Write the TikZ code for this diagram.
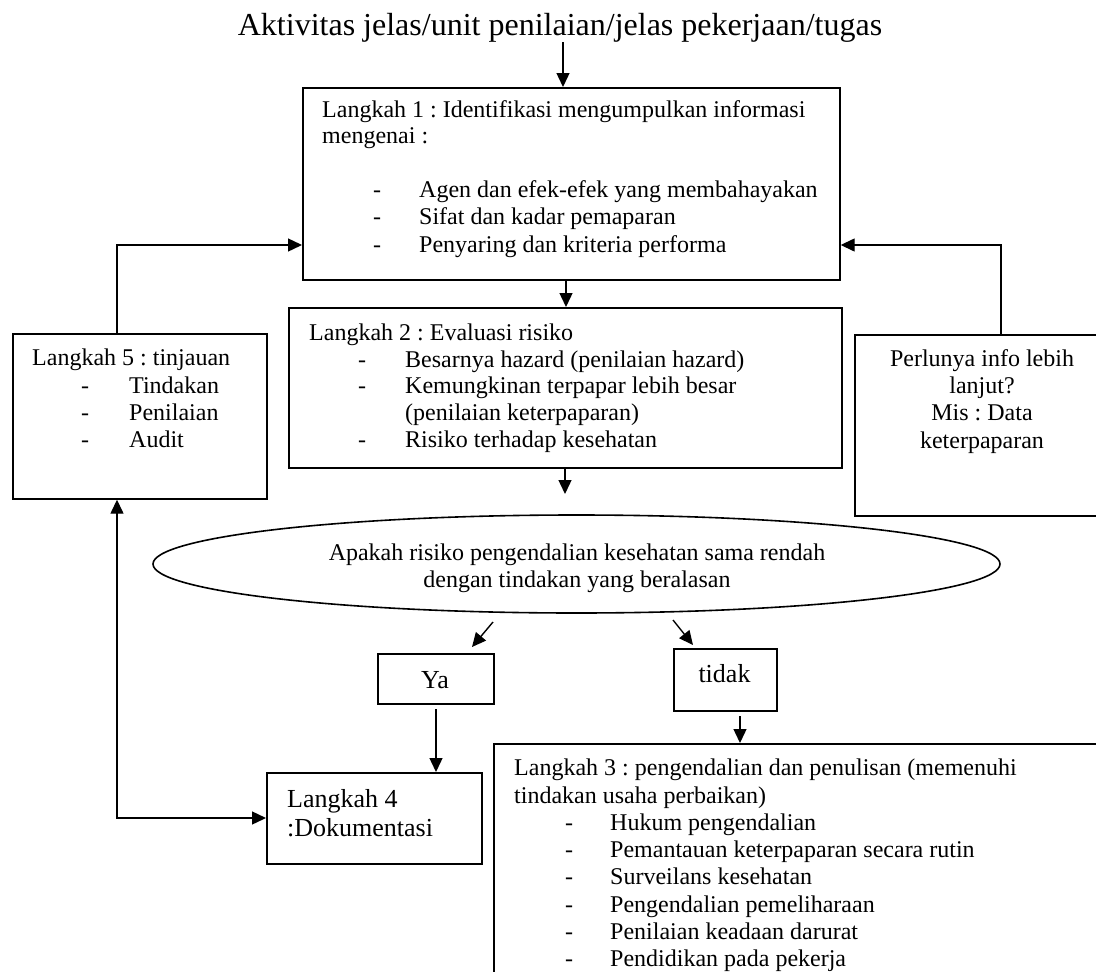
\documentclass[tikz,border=0pt]{standalone}
\usepackage{fontspec}
\setmainfont{Liberation Serif}
\usetikzlibrary{arrows.meta,shapes.geometric}
\frenchspacing
\begin{document}
\begin{tikzpicture}[x=1pt,y=-1pt,
  box/.style={draw, line width=1.7pt, rectangle, inner sep=0pt, anchor=north west},
  txt/.style={inner sep=0pt, anchor=base west, font=\fontsize{24}{27.5}\selectfont},
  ctxt/.style={txt, anchor=base},
  bigtxt/.style={txt, font=\fontsize{26}{30}\selectfont},
  arr/.style={line width=1.4pt, -{Triangle[length=14pt,width=13pt]}},
  darr/.style={line width=1.4pt, {Triangle[length=14pt,width=13pt]}-{Triangle[length=14pt,width=13pt]}},
]
\useasboundingbox (0,0) rectangle (1096,972);
\clip (0,0) rectangle (1096,972);

% ---- boxes ----
\node[box, minimum width=537pt, minimum height=192pt] (b1) at (302,87) {};
\node[box, minimum width=553pt, minimum height=160pt] (b2) at (288,307) {};
\node[box, minimum width=254pt, minimum height=165pt] (b5) at (12,333) {};
\node[box, minimum width=256pt, minimum height=181pt] (rb) at (854,334) {};
\node[box, minimum width=116pt, minimum height=50pt] (yb) at (377,653) {};
\node[box, minimum width=103pt, minimum height=62pt] (tb) at (673,648) {};
\node[box, minimum width=215pt, minimum height=91pt] (b4) at (266,772) {};
\node[box, minimum width=640pt, minimum height=300pt] (b3) at (493,743) {};
\node[draw, ellipse, line width=1.6pt, minimum width=847pt, minimum height=98pt, inner sep=0pt] (q) at (576.5,564) {};

% ---- title ----
\node[inner sep=0pt, anchor=base, font=\fontsize{32}{36}\selectfont] (title) at (560,35)
  {Aktivitas jelas/unit penilaian/jelas pekerjaan/tugas};

% ---- step 1 ----
\node[txt] (s1a) at (322,117) {Langkah 1 : Identifikasi mengumpulkan informasi};
\node[txt] (s1b) at (322,143) {mengenai :};
\node[txt] (s1d1) at (373,197) {-};
\node[txt] (s1i1) at (419,197) {Agen dan efek-efek yang membahayakan};
\node[txt] (s1d2) at (373,224) {-};
\node[txt] (s1i2) at (419,224) {Sifat dan kadar pemaparan};
\node[txt] (s1d3) at (373,252) {-};
\node[txt] (s1i3) at (419,252) {Penyaring dan kriteria performa};

% ---- step 2 ----
\node[txt] (s2a) at (309,340) {Langkah 2 : Evaluasi risiko};
\node[txt] (s2d1) at (358,367) {-};
\node[txt] (s2i1) at (405,367) {Besarnya hazard (penilaian hazard)};
\node[txt] (s2d2) at (358,393) {-};
\node[txt] (s2i2) at (405,393) {Kemungkinan terpapar lebih besar};
\node[txt] (s2i2b) at (405,420) {(penilaian keterpaparan)};
\node[txt] (s2d3) at (358,447) {-};
\node[txt] (s2i3) at (405,447) {Risiko terhadap kesehatan};

% ---- step 5 ----
\node[txt] (s5a) at (32,365) {Langkah 5 : tinjauan};
\node[txt] (s5d1) at (81,393) {-};
\node[txt] (s5i1) at (129,393) {Tindakan};
\node[txt] (s5d2) at (81,420) {-};
\node[txt] (s5i2) at (129,420) {Penilaian};
\node[txt] (s5d3) at (81,447) {-};
\node[txt] (s5i3) at (129,447) {Audit};

% ---- more information ----
\node[ctxt] (r1) at (982,366) {Perlunya info lebih};
\node[ctxt] (r2) at (982,393) {lanjut?};
\node[ctxt] (r3) at (982,420) {Mis : Data};
\node[ctxt] (r4) at (982,448) {keterpaparan};

% ---- decision ----
\node[ctxt] (q1) at (577,560) {Apakah risiko pengendalian kesehatan sama rendah};
\node[ctxt] (q2) at (577,587) {dengan tindakan yang beralasan};
\node[bigtxt, anchor=base] (ya) at (435,688) {Ya};
\node[bigtxt, anchor=base] (tidak) at (724.5,682) {tidak};

% ---- step 4 ----
\node[bigtxt] (s4a) at (287,807) {Langkah 4};
\node[bigtxt] (s4b) at (287,836) {:Dokumentasi};

% ---- step 3 ----
\node[txt] (s3a) at (514,775) {Langkah 3 : pengendalian dan penulisan (memenuhi};
\node[txt] (s3b) at (514,803) {tindakan usaha perbaikan)};
\node[txt] (s3d1) at (565,830) {-};
\node[txt] (s3i1) at (610,830) {Hukum pengendalian};
\node[txt] (s3d2) at (565,857) {-};
\node[txt] (s3i2) at (610,857) {Pemantauan keterpaparan secara rutin};
\node[txt] (s3d3) at (565,884) {-};
\node[txt] (s3i3) at (610,884) {Surveilans kesehatan};
\node[txt] (s3d4) at (565,912) {-};
\node[txt] (s3i4) at (610,912) {Pengendalian pemeliharaan};
\node[txt] (s3d5) at (565,939) {-};
\node[txt] (s3i5) at (610,939) {Penilaian keadaan darurat};
\node[txt] (s3d6) at (565,966) {-};
\node[txt] (s3i6) at (610,966) {Pendidikan pada pekerja};

% ---- guide coordinates ----
\coordinate (xA) at (563,0);
\coordinate (xB) at (566,0);
\coordinate (xL) at (117,0);
\coordinate (xR) at (1001,0);
\coordinate (yF) at (0,245);
\coordinate (yG) at (0,818);
\coordinate (qin) at (565,494);
\coordinate (ya0) at (493,622);
\coordinate (ya1) at (472,647);
\coordinate (ti0) at (673,620);
\coordinate (ti1) at (693,645);
\coordinate (y0) at (436,709);
\coordinate (t0) at (740,716);

% ---- connectors ----
\draw[arr] (title.south -| xA) -- (xA |- b1.north);
\draw[arr] (b1.south -| xB) -- (xB |- b2.north);
\draw[arr] (b2.south -| qin) -- (qin);
\draw[arr] (xL |- b5.north) -- (xL |- yF) -- (b1.west |- yF);
\draw[arr] (xR |- rb.north) -- (xR |- yF) -- (b1.east |- yF);
\draw[darr] (xL |- b5.south) -- (xL |- yG) -- (b4.west |- yG);
\draw[arr] (ya0) -- (ya1);
\draw[arr] (ti0) -- (ti1);
\draw[arr] (y0) -- (y0 |- b4.north);
\draw[arr] (t0) -- (t0 |- b3.north);
\end{tikzpicture}
\end{document}
